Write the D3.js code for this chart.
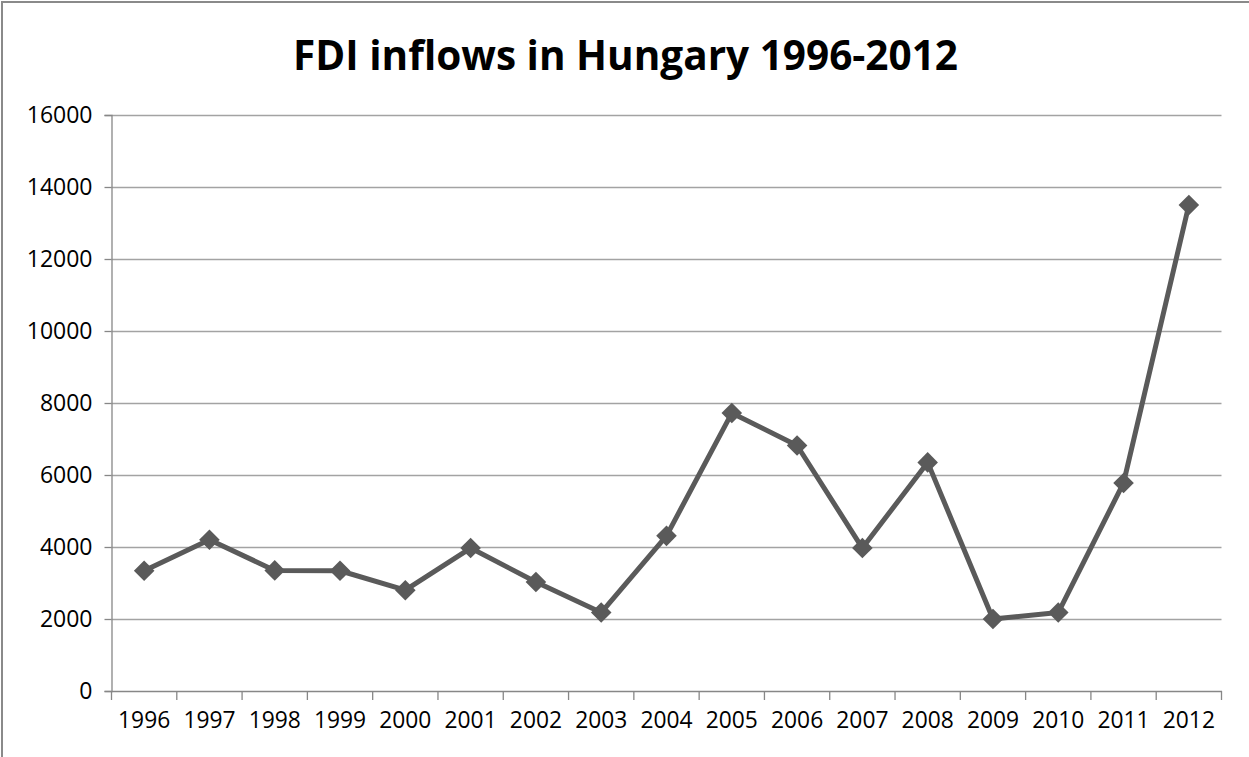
<!DOCTYPE html>
<html>
<head>
<meta charset="utf-8">
<script src="https://cdn.jsdelivr.net/npm/d3@7"></script>
<style>
  html, body { margin: 0; padding: 0; background: #fff; }
  svg { display: block; }
</style>
</head>
<body>
<script>
// FDI inflows into Hungary, 1996-2012
const years = ["1996","1997","1998","1999","2000","2001","2002","2003","2004",
               "2005","2006","2007","2008","2009","2010","2011","2012"];
const fdi = [3340, 4200, 3350, 3340, 2800, 3970, 3030, 2180, 4310,
             7720, 6820, 3970, 6350, 2000, 2180, 5780, 13500];
const yTicks = [0, 2000, 4000, 6000, 8000, 10000, 12000, 14000, 16000];
const title = "FDI inflows in Hungary 1996-2012";

const W = 1249, H = 757;
const plot = { left: 111.5, right: 1221.5, top: 115, bottom: 691 };
const labelFont = "'Open Sans', sans-serif";

const svg = d3.select("body").append("svg")
  .attr("width", W).attr("height", H);

// chart frame
svg.append("rect")
  .attr("x", 2).attr("y", 2)
  .attr("width", W + 10).attr("height", H + 10)
  .attr("fill", "#fff")
  .attr("stroke", "#8a8a8a").attr("stroke-width", 2);

const x = d3.scaleBand().domain(years).range([plot.left, plot.right]).padding(0);
const y = d3.scaleLinear().domain([0, 16000]).range([plot.bottom, plot.top]);

// horizontal gridlines
svg.append("g").selectAll("line")
  .data(yTicks.filter(d => d > 0))
  .join("line")
  .attr("x1", plot.left).attr("x2", plot.right)
  .attr("y1", d => Math.round(y(d)) + 0.5).attr("y2", d => Math.round(y(d)) + 0.5)
  .attr("stroke", "#a3a3a3").attr("stroke-width", 1.3);

// value axis
const yAxis = svg.append("g")
  .attr("transform", `translate(${plot.left},0)`)
  .call(d3.axisLeft(y).tickValues(yTicks).tickSize(7).tickPadding(12).tickFormat(d3.format("d")));
yAxis.select(".domain").attr("stroke", "#878787").attr("stroke-width", 1.3);
yAxis.selectAll(".tick line").attr("stroke", "#878787").attr("stroke-width", 1.3);
yAxis.selectAll(".tick text")
  .attr("font-family", labelFont)
  .attr("font-size", 23)
  .attr("fill", "#000");

// category axis
const xAxis = svg.append("g")
  .attr("transform", `translate(0,${plot.bottom})`)
  .call(d3.axisBottom(x).tickSize(0).tickPadding(21));
xAxis.select(".domain").attr("stroke", "#878787").attr("stroke-width", 1.3);
xAxis.selectAll(".tick text")
  .attr("font-family", labelFont)
  .attr("font-size", 22.8)
  .attr("fill", "#000");

// boundary ticks between categories
const bounds = years.map(d => x(d)).concat([x(years[years.length - 1]) + x.bandwidth()]);
svg.append("g").selectAll("line")
  .data(bounds)
  .join("line")
  .attr("x1", d => d).attr("x2", d => d)
  .attr("y1", plot.bottom).attr("y2", plot.bottom + 9)
  .attr("stroke", "#878787").attr("stroke-width", 1.3);

// series line
const cx = d => x(d) + x.bandwidth() / 2;
const line = d3.line()
  .x((d, i) => cx(years[i]))
  .y(d => y(d));

svg.append("path")
  .datum(fdi)
  .attr("d", line)
  .attr("fill", "none")
  .attr("stroke", "#5a5a5a")
  .attr("stroke-width", 5)
  .attr("stroke-linejoin", "round");

// diamond markers
const diamond = d3.symbol().type(d3.symbolDiamond2).size(270);
svg.append("g").selectAll("path")
  .data(fdi)
  .join("path")
  .attr("d", diamond)
  .attr("transform", (d, i) => `translate(${cx(years[i])},${y(d)})`)
  .attr("fill", "#5a5a5a");

// title
svg.append("text")
  .attr("x", 625.5).attr("y", 70)
  .attr("text-anchor", "middle")
  .attr("font-family", labelFont)
  .attr("font-weight", 700)
  .attr("font-size", 41)
  .attr("textLength", 665)
  .attr("lengthAdjust", "spacingAndGlyphs")
  .attr("fill", "#000")
  .text(title);
</script>
</body>
</html>
